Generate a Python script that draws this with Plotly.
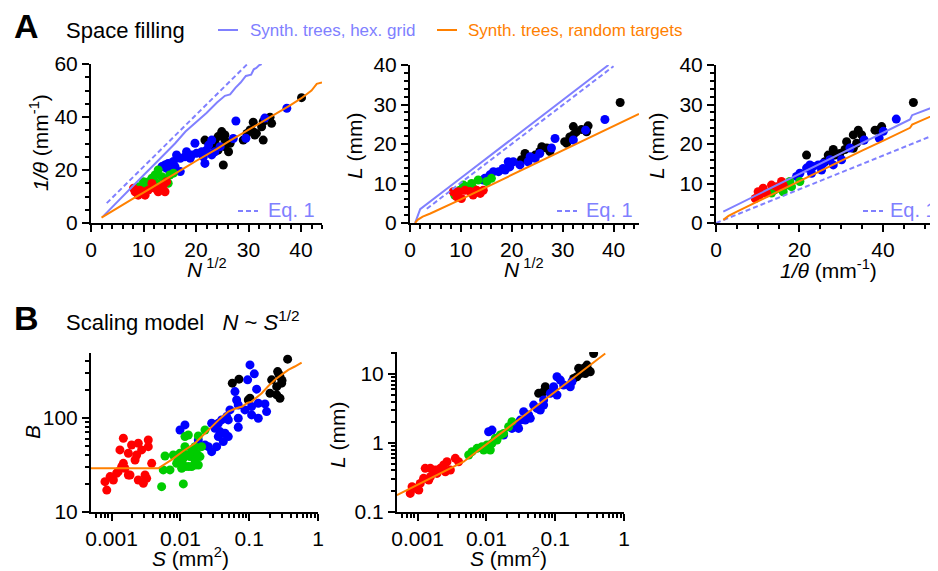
import plotly.graph_objects as go

W, H = 938, 571
OFFSET = 8  # page body margin in the browser
FONT = "Arial, Liberation Sans, sans-serif"
HEX = "#8080ff"
ORANGE = "#ff8000"
GROUP_COLORS = {"black": "#000000", "blue": "#0000ff", "green": "#00cc00", "red": "#ff0000"}

# ---------------- Panel A1: 1/theta vs N^1/2 ----------------
A1_BLACK_X = [40.1, 34.1, 32.8, 30.9, 32.5, 34.4, 30.3, 29.7, 31.5, 31.2, 29.0, 25.5, 24.9, 24.2, 23.6, 21.7,
              23.0, 25.5, 26.2, 26.5, 25.2, 24.2, 25.5, 30.9, 32.8]
A1_BLACK_Y = [47.3, 39.9, 38.2, 38.0, 36.3, 37.6, 35.1, 33.8, 33.8, 33.2, 31.3, 33.2, 34.5, 32.6, 30.7, 31.3,
              29.4, 28.8, 26.9, 30.1, 21.9, 27.5, 31.3, 34.5, 31.3]
A1_BLUE_X = [37.3, 27.6, 23.0, 22.4, 23.6, 22.0, 21.1, 21.4, 19.8, 20.1, 19.2, 18.9, 17.9, 17.0, 16.3, 15.7,
             14.7, 14.1, 16.0, 17.0, 15.4, 14.4, 21.7, 23.0, 24.6, 27.1, 18.2, 13.5, 33.1, 29.5]
A1_BLUE_Y = [43.3, 38.5, 31.3, 29.4, 26.9, 27.5, 26.9, 25.0, 30.1, 26.3, 25.7, 24.4, 25.0, 24.4, 25.7, 23.2,
             22.5, 21.9, 21.3, 19.4, 20.0, 20.6, 22.5, 25.7, 28.8, 31.9, 26.9, 21.3, 39.6, 32.0]
A1_GREEN_X = [12.8, 12.2, 11.6, 11.0, 13.5, 14.1, 15.0, 10.3, 12.5, 13.1, 9.0, 10.0, 15.7, 11.9, 14.7]
A1_GREEN_Y = [20.0, 18.1, 16.9, 15.6, 17.5, 16.2, 18.1, 14.4, 15.0, 13.7, 13.7, 15.6, 18.8, 14.4, 15.0]
A1_RED_X = [8.4, 9.0, 8.1, 10.0, 10.9, 11.6, 13.8, 14.1, 13.5, 14.4, 9.3, 10.3, 12.8, 12.2]
A1_RED_Y = [11.8, 10.5, 13.1, 11.8, 12.4, 14.9, 14.4, 11.8, 13.1, 15.6, 12.4, 10.5, 11.8, 13.1]
A1_HEX_X = [2.3, 4, 6, 8, 10, 12, 14, 16, 18, 20, 22, 24, 25.5, 26.5, 27.5, 28.5, 29.5, 30.5, 31.0, 31.5, 32.0, 32.5]
A1_HEX_Y = [2.5, 6, 10, 14, 18, 22, 26, 30, 34.5, 38, 41.5, 45.5, 48, 48.5, 51, 53, 55.5, 56, 58, 58.5, 59.5, 60]
A1_EQ_X = [3.0, 29.8]
A1_EQ_Y = [7.5, 60]
A1_RAND_X = [2, 4, 6, 8, 10, 12, 14, 16, 18, 20, 22, 24, 26, 28, 30, 32, 34, 36, 38, 40, 42, 43, 44]
A1_RAND_Y = [2, 4.5, 6.8, 9.2, 11.5, 13.8, 16.3, 18.6, 21, 23.4, 25.6, 28, 30.5, 32.8, 35.2, 37.5, 40, 42.3,
             44.5, 47, 50, 52.5, 53]

# ---------------- Panel A2: L vs N^1/2 ----------------
A2_BLACK_X = [41.3, 35.0, 33.7, 32.1, 32.1, 32.7, 31.4, 30.4, 30.8, 34.7, 26.9, 25.5, 25.9, 24.6, 22.6, 22.9, 27.5, 21.9]
A2_BLACK_Y = [30.5, 24.6, 23.7, 24.4, 22.3, 23.1, 21.8, 20.6, 20.2, 23.1, 19.0, 18.1, 19.3, 17.2, 17.6, 16.8, 18.1, 16.0]
A2_BLUE_X = [38.3, 34.5, 28.5, 32.1, 27.8, 23.6, 23.2, 20.3, 19.3, 19.6, 18.3, 17.4, 16.4, 15.7, 14.7, 14.4,
             18.7, 21.6, 24.6, 25.5]
A2_BLUE_Y = [26.2, 23.5, 21.4, 21.0, 19.0, 16.8, 15.5, 15.5, 15.5, 14.2, 13.8, 13.0, 13.0, 12.2, 11.3, 10.9,
             13.4, 14.7, 16.4, 17.6]
A2_GREEN_X = [13.4, 12.1, 11.1, 12.4, 9.8, 8.8, 16.0, 15.1, 10.5]
A2_GREEN_Y = [10.9, 10.0, 9.2, 8.8, 8.3, 7.0, 11.3, 10.5, 9.6]
A2_RED_X = [8.5, 9.2, 10.1, 10.8, 11.8, 13.1, 13.8, 14.4, 9.5, 12.4]
A2_RED_Y = [7.9, 6.6, 6.2, 8.3, 8.0, 8.3, 7.5, 8.3, 7.9, 7.1]
A2_HEX_X = [1, 2, 10, 20, 30, 39]
A2_HEX_Y = [0, 3.5, 11.4, 21.3, 31.1, 40]
A2_EQ_X = [3.3, 40]
A2_EQ_Y = [3.6, 39.7]
A2_RAND_X = [1, 1.5, 2.5, 4, 10, 20, 30, 40, 45]
A2_RAND_Y = [0, 0.8, 1.6, 2.4, 6.0, 12.2, 18.4, 24.6, 27.6]

# ---------------- Panel A3: L vs 1/theta ----------------
A3_BLACK_X = [39.7, 39.1, 47.3, 34.1, 34.9, 32.9, 35.3, 33.7, 31.3, 32.9, 30.9, 28.1, 29.7, 26.9, 21.7, 26.1, 28.5, 38.1]
A3_BLACK_Y = [24.4, 23.6, 30.5, 23.5, 22.3, 22.3, 21.0, 20.2, 20.6, 18.9, 18.6, 18.6, 17.6, 17.2, 17.2, 15.5, 17.2, 23.5]
A3_BLUE_X = [40.1, 43.2, 39.1, 35.5, 32.1, 30.1, 27.3, 25.7, 24.5, 23.3, 22.5, 21.7, 20.1, 19.3, 25.3, 28.1, 22.9]
A3_BLUE_Y = [23.2, 26.3, 21.5, 21.0, 19.0, 16.0, 16.0, 15.1, 14.7, 14.3, 14.7, 13.9, 12.6, 11.8, 13.4, 14.7, 12.6]
A3_GREEN_X = [17.7, 16.9, 15.3, 14.1, 16.1, 20.1, 18.1, 13.3]
A3_GREEN_Y = [10.5, 9.6, 8.8, 8.4, 7.9, 10.5, 9.2, 7.6]
A3_RED_X = [10.1, 11.3, 12.1, 13.3, 14.5, 15.7, 16.1, 10.5, 9.4]
A3_RED_Y = [7.9, 8.8, 7.6, 9.6, 9.2, 10.5, 9.6, 7.1, 6.2]
A3_HEX_X = [1.75, 5, 10, 15, 20, 25, 30, 35, 40, 46.5, 47.0, 50, 53.2]
A3_HEX_Y = [2.9, 4.6, 7.2, 9.8, 12.4, 15.0, 17.6, 20.2, 22.8, 26.2, 27.3, 28.5, 29.8]
A3_EQ_X = [0, 53.2]
A3_EQ_Y = [0, 22.7]
A3_RAND_X = [1.75, 3, 5, 10, 15, 20, 25, 30, 35, 40, 45, 46.5, 47, 50, 53.2]
A3_RAND_Y = [0.8, 1.8, 2.9, 5.5, 8.0, 10.6, 13.2, 15.7, 18.3, 20.8, 23.4, 24.1, 24.9, 26.3, 27.8]

# ---------------- Panel B1: B vs S ----------------
B1_BLACK_X = [0.362, 0.259, 0.280, 0.212, 0.296, 0.251, 0.2005, 0.251, 0.280, 0.097, 0.1026, 0.0568, 0.0710, 0.30, 0.27]
B1_BLACK_Y = [421, 311, 275, 254, 234, 215, 183, 176, 162, 155, 162, 234, 258, 250, 290]
B1_BLUE_X = [0.1026, 0.1186, 0.0948, 0.0621, 0.0656, 0.1282, 0.0693, 0.0866, 0.1084, 0.1355, 0.1694, 0.179,
             0.1084, 0.1355, 0.0693, 0.0693, 0.0525, 0.04966, 0.03972, 0.03554, 0.02844, 0.03178, 0.03758,
             0.04444, 0.04966, 0.03554, 0.0420, 0.0336, 0.02844, 0.02543, 0.02275, 0.0182, 0.01164, 0.00986, 0.0470]
B1_BLUE_Y = [366, 294, 254, 190.5, 155, 202, 137, 121.7, 132, 143, 141, 116.7, 107.6, 99.2, 99.2, 79.6, 121.7,
             95.2, 95.2, 87.7, 87.7, 77.6, 71.5, 68.7, 63.3, 63.3, 56.0, 49.5, 43.8, 49.5, 51.6, 58.3, 84.2, 74.5, 103.3]
B1_GREEN_X = [0.00597, 0.00789, 0.00563, 0.00705, 0.00533, 0.01102, 0.01164, 0.01302, 0.02275, 0.01820, 0.02035,
              0.01628, 0.01164, 0.00986, 0.00931, 0.01042, 0.01164, 0.01302, 0.01455, 0.01628, 0.01820, 0.01102,
              0.01230, 0.01377, 0.01538, 0.01721, 0.01455, 0.00881, 0.01042, 0.01628, 0.01923]
B1_GREEN_Y = [39.4, 40.4, 28.0, 28.0, 18.6, 19.9, 63.3, 65.9, 74.5, 64.4, 49.5, 49.5, 49.5, 42.1, 35.7, 32.9,
              30.4, 30.4, 30.4, 31.6, 31.6, 37.2, 40.4, 38.8, 40.4, 42.1, 45.7, 32.9, 29.1, 35.7, 38.8]
B1_RED_X = [0.00148, 0.00195, 0.00244, 0.00273, 0.00341, 0.00341, 0.00132, 0.00175, 0.00231, 0.00219, 0.00148,
            0.00140, 0.00382, 0.00156, 0.00125, 0.00175, 0.00185, 0.00095, 0.00106, 0.00080, 0.00306, 0.00244,
            0.00323, 0.00289, 0.00085, 0.00118]
B1_RED_Y = [60.8, 51.6, 53.8, 45.7, 58.3, 49.5, 45.7, 42.1, 40.4, 35.7, 32.9, 30.4, 32.9, 29.1, 26.9, 24.7,
            24.7, 23.8, 21.9, 21.0, 24.7, 21.9, 22.8, 20.2, 17.1, 25.8]
B1_RAND_X = [0.0005, 0.00477, 0.0075, 0.0110, 0.01628, 0.0215, 0.02844, 0.0370, 0.04966, 0.0620, 0.0794,
             0.0930, 0.1084, 0.1300, 0.1518, 0.190, 0.2366, 0.300, 0.370, 0.460, 0.578]
B1_RAND_Y = [29.1, 29.1, 36.0, 44.5, 53.8, 66.0, 80.9, 97.0, 116.7, 125.0, 132, 144, 149, 165, 183, 218, 254,
             290, 324, 352, 388]

# ---------------- Panel B2: L vs S ----------------
B2_BLACK_X = [0.3618, 0.2895, 0.259, 0.219, 0.232, 0.2735, 0.306, 0.207, 0.1854, 0.0948, 0.0718, 0.0574, 0.0679, 0.3236]
B2_BLACK_Y = [19.9, 13.5, 12.1, 12.1, 10.2, 10.2, 11.43, 9.15, 8.65, 5.86, 6.55, 5.25, 5.55, 10.8]
B2_BLUE_X = [0.01076, 0.01205, 0.01778, 0.02352, 0.02780, 0.03110, 0.03475, 0.0411, 0.0434, 0.0486, 0.0543,
             0.0679, 0.0679, 0.0849, 0.0948, 0.1061, 0.1186, 0.1326, 0.1061, 0.1656, 0.1752, 0.0607, 0.02937, 0.03672]
B2_BLUE_Y = [1.46, 1.54, 1.31, 1.63, 1.82, 2.15, 2.85, 2.55, 2.28, 3.55, 3.18, 3.55, 4.20, 5.25, 6.55, 9.15,
             8.18, 6.93, 4.97, 6.55, 7.74, 3.01, 1.63, 2.15]
B2_GREEN_X = [0.00552, 0.00617, 0.00730, 0.00862, 0.01019, 0.01139, 0.01205, 0.01424, 0.01592, 0.01778, 0.02104,
              0.02352, 0.00912, 0.01346]
B2_GREEN_Y = [0.670, 0.749, 0.837, 0.885, 0.935, 0.792, 0.989, 1.105, 1.31, 1.38, 1.72, 2.04, 0.792, 1.17]
B2_RED_X = [0.00078, 0.00093, 0.00083, 0.00109, 0.00122, 0.00145, 0.00153, 0.00129, 0.00153, 0.00181, 0.00214,
            0.00239, 0.00267, 0.00299, 0.00353, 0.00394, 0.00191, 0.00104, 0.00171, 0.00253]
B2_RED_Y = [0.186, 0.220, 0.233, 0.260, 0.308, 0.291, 0.325, 0.430, 0.430, 0.406, 0.430, 0.480, 0.536, 0.406,
            0.600, 0.536, 0.363, 0.208, 0.384, 0.384]
B2_RAND_X = [0.0005, 0.00466, 0.0199, 0.534]
B2_RAND_Y = [0.176, 0.536, 1.62, 19.9]

LOG_TICKVALS = [0.001, 0.01, 0.1, 1]
LOG_TICKTEXT = ["0.001", "0.01", "0.1", "1"]


def px_x(p):
    return min(1.0, (p - OFFSET) / W)


def px_y(p):
    return 1 - (p - OFFSET) / H


fig = go.Figure()

panels = [
    ("x", "y", A1_BLACK_X, A1_BLACK_Y, A1_BLUE_X, A1_BLUE_Y, A1_GREEN_X, A1_GREEN_Y, A1_RED_X, A1_RED_Y,
     A1_HEX_X, A1_HEX_Y, A1_EQ_X, A1_EQ_Y, A1_RAND_X, A1_RAND_Y),
    ("x2", "y2", A2_BLACK_X, A2_BLACK_Y, A2_BLUE_X, A2_BLUE_Y, A2_GREEN_X, A2_GREEN_Y, A2_RED_X, A2_RED_Y,
     A2_HEX_X, A2_HEX_Y, A2_EQ_X, A2_EQ_Y, A2_RAND_X, A2_RAND_Y),
    ("x3", "y3", A3_BLACK_X, A3_BLACK_Y, A3_BLUE_X, A3_BLUE_Y, A3_GREEN_X, A3_GREEN_Y, A3_RED_X, A3_RED_Y,
     A3_HEX_X, A3_HEX_Y, A3_EQ_X, A3_EQ_Y, A3_RAND_X, A3_RAND_Y),
    ("x4", "y4", B1_BLACK_X, B1_BLACK_Y, B1_BLUE_X, B1_BLUE_Y, B1_GREEN_X, B1_GREEN_Y, B1_RED_X, B1_RED_Y,
     None, None, None, None, B1_RAND_X, B1_RAND_Y),
    ("x5", "y5", B2_BLACK_X, B2_BLACK_Y, B2_BLUE_X, B2_BLUE_Y, B2_GREEN_X, B2_GREEN_Y, B2_RED_X, B2_RED_Y,
     None, None, None, None, B2_RAND_X, B2_RAND_Y),
]

for p in panels:
    xa, ya = p[0], p[1]
    groups = [("black", p[2], p[3]), ("blue", p[4], p[5]), ("green", p[6], p[7]), ("red", p[8], p[9])]
    for name, gx, gy in groups:
        fig.add_trace(go.Scatter(x=gx, y=gy, mode="markers", xaxis=xa, yaxis=ya, showlegend=False,
                                 marker=dict(size=9, color=GROUP_COLORS[name], line=dict(width=0))))
    if p[10] is not None:
        fig.add_trace(go.Scatter(x=p[10], y=p[11], mode="lines", xaxis=xa, yaxis=ya, showlegend=False,
                                 line=dict(color=HEX, width=2)))
        fig.add_trace(go.Scatter(x=p[12], y=p[13], mode="lines", xaxis=xa, yaxis=ya, showlegend=False,
                                 line=dict(color=HEX, width=2, dash="5px,3px")))
    fig.add_trace(go.Scatter(x=p[14], y=p[15], mode="lines", xaxis=xa, yaxis=ya, showlegend=False,
                             line=dict(color=ORANGE, width=2)))

tickfont = dict(family=FONT, size=21, color="black")


def lin_axis(domain, rng, dtick, minor, anchor):
    return dict(domain=domain, range=rng, dtick=dtick, anchor=anchor, showline=True, linecolor="black",
                linewidth=2, ticks="outside", ticklen=7, tickwidth=2, tickcolor="black", showgrid=False,
                zeroline=False, tickfont=tickfont, automargin=False,
                minor=dict(ticks="outside", ticklen=4, tickwidth=1.5, tickcolor="black", dtick=minor,
                           showgrid=False))


def log_axis(domain, rng, anchor, tickvals, ticktext):
    return dict(domain=domain, range=rng, type="log", anchor=anchor, tickvals=tickvals, ticktext=ticktext,
                showline=True, linecolor="black", linewidth=2, ticks="outside", ticklen=7, tickwidth=2,
                tickcolor="black", showgrid=False, zeroline=False, tickfont=tickfont, automargin=False,
                minor=dict(ticks="outside", ticklen=4, tickwidth=1.5, tickcolor="black", dtick="D1",
                           showgrid=False))


ya_top = [px_y(223), px_y(64)]
ya_top2 = [px_y(223), px_y(65)]
fig.update_layout(
    xaxis=lin_axis([px_x(91), px_x(322)], [0, 44], 10, 2, "y"),
    yaxis=lin_axis(ya_top, [0, 60], 20, 5, "x"),
    xaxis2=lin_axis([px_x(410), px_x(639)], [0, 45], 10, 2, "y2"),
    yaxis2=lin_axis(ya_top2, [0, 40], 10, 2, "x2"),
    xaxis3=lin_axis([px_x(716), px_x(938)], [0, 53.2], 20, 5, "y3"),
    yaxis3=lin_axis(ya_top2, [0, 40], 10, 2, "x3"),
    xaxis4=log_axis([px_x(91), px_x(318)], [-3.30, 0.0], "y4", LOG_TICKVALS, LOG_TICKTEXT),
    yaxis4=log_axis([px_y(512), px_y(353)], [1.0, 2.69], "x4", [10, 100], ["10", "100"]),
    xaxis5=log_axis([px_x(397), px_x(624)], [-3.30, 0.0], "y5", LOG_TICKVALS, LOG_TICKTEXT),
    yaxis5=log_axis([px_y(512), px_y(352)], [-1.0, 1.32], "x5", [0.1, 1, 10], ["0.1", "1", "10"]),
)

annotations = []
shapes = []


def text(x, y, s, size=21, color="black", xanchor="center", angle=0):
    annotations.append(dict(x=px_x(x), y=px_y(y), xref="paper", yref="paper", text=s, showarrow=False,
                            xanchor=xanchor, yanchor="middle", textangle=angle,
                            font=dict(family=FONT, size=size, color=color)))


# panel letters and headings
text(12, 26, "<b>A</b>", size=34, xanchor="left")
text(64, 31, "Space filling", size=22, xanchor="left")
text(12, 318, "<b>B</b>", size=34, xanchor="left")
text(64, 321, "Scaling model   <i>N</i> ~ <i>S</i><sup>1/2</sup>", size=22, xanchor="left")

# legend
text(248, 31, "Synth. trees, hex. grid", size=17, color=HEX, xanchor="left")
text(466, 31, "Synth. trees, random targets", size=17, color=ORANGE, xanchor="left")
shapes.append(dict(type="line", xref="paper", yref="paper", x0=px_x(218), x1=px_x(238), y0=px_y(30), y1=px_y(30),
                   line=dict(color=HEX, width=2)))
shapes.append(dict(type="line", xref="paper", yref="paper", x0=px_x(437), x1=px_x(457), y0=px_y(30), y1=px_y(30),
                   line=dict(color=ORANGE, width=2)))

# Eq. 1 keys
for x0, tx in [(238, 266), (557, 584), (863, 888)]:
    shapes.append(dict(type="line", xref="paper", yref="paper", x0=px_x(x0), x1=px_x(x0 + 20), y0=px_y(211),
                       y1=px_y(211), line=dict(color=HEX, width=2, dash="5px,3px")))
    text(tx, 210, "Eq. 1", size=20, color=HEX, xanchor="left")

# axis titles
text(39, 143, "<i>1/θ</i> (mm<sup>-1</sup>)", angle=-90)
text(207, 268, "<i>N</i><sup> 1/2</sup>")
text(354, 146, "<i>L</i> (mm)", angle=-90)
text(524, 268, "<i>N</i><sup> 1/2</sup>")
text(656, 146, "<i>L</i> (mm)", angle=-90)
text(828, 269, "<i>1/θ</i> (mm<sup>-1</sup>)")
text(33, 432, "<i>B</i>", angle=-90)
text(190, 557, "<i>S</i> (mm<sup>2</sup>)")
text(337, 435, "<i>L</i> (mm)", angle=-90)
text(508, 557, "<i>S</i> (mm<sup>2</sup>)")

fig.update_layout(
    width=W, height=H,
    margin=dict(l=0, r=0, t=0, b=0, autoexpand=False),
    paper_bgcolor="white", plot_bgcolor="white",
    showlegend=False,
    annotations=annotations,
    shapes=shapes,
)

fig.write_html("out.html")
